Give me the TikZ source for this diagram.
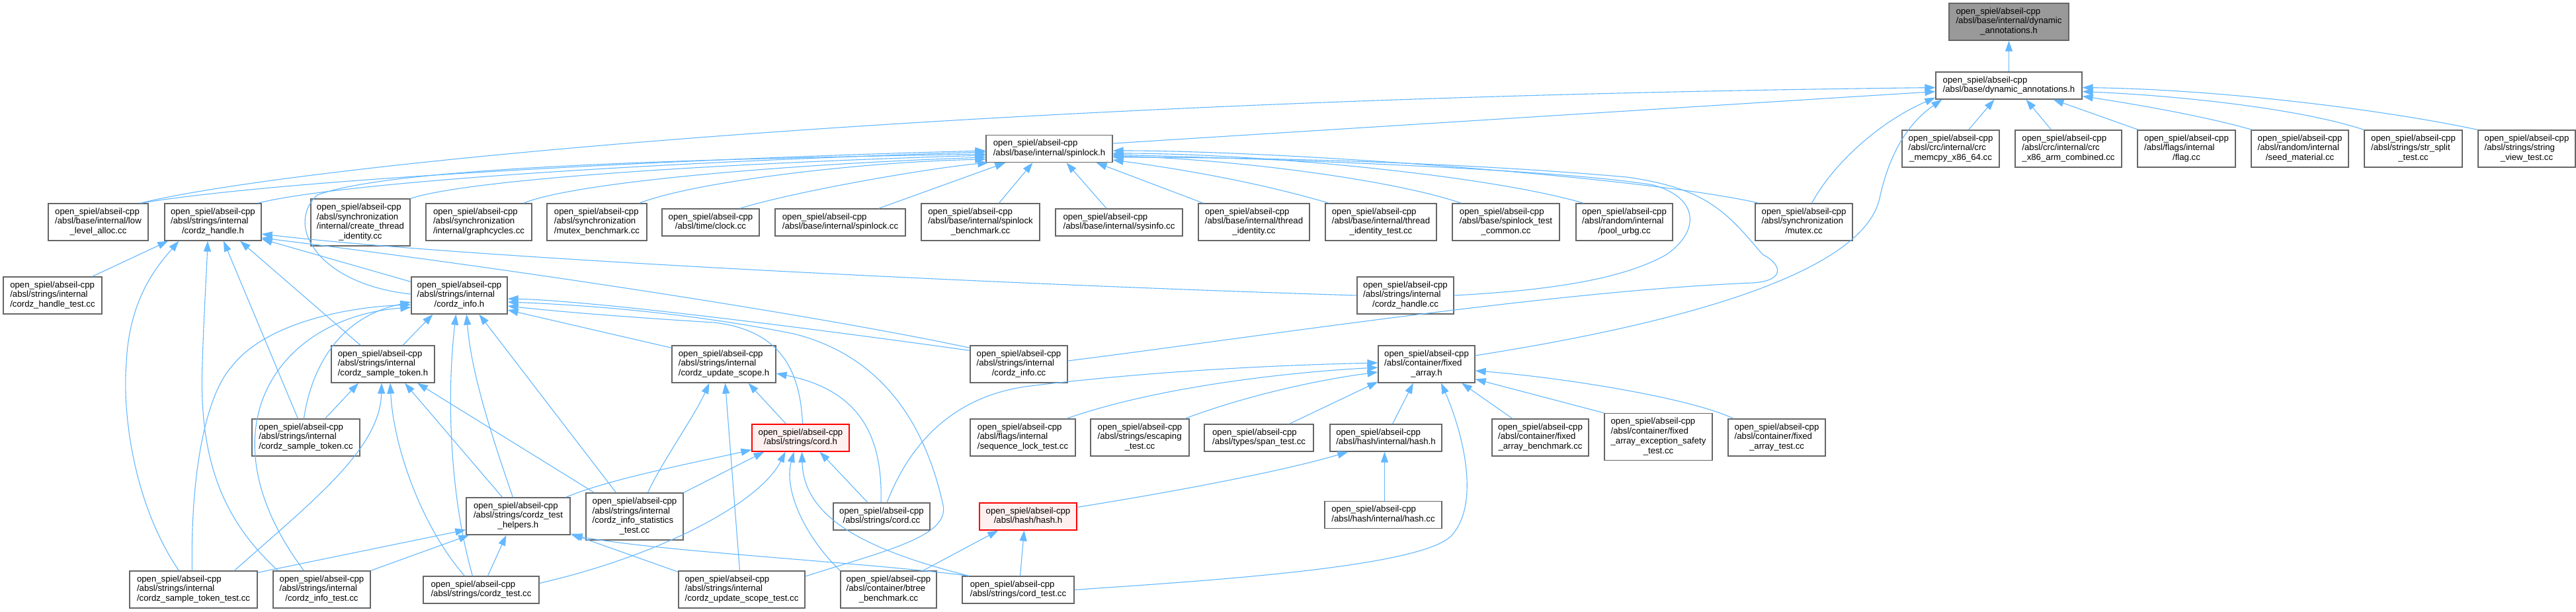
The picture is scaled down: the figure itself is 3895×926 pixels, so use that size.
\documentclass[tikz,border=0pt]{standalone}
\usepackage{fontspec}
\setmainfont{Liberation Sans}
\usetikzlibrary{arrows.meta,calc}
\definecolor{edgeblue}{HTML}{63B8FF}
\definecolor{bordergray}{HTML}{666666}
\definecolor{fillgray}{HTML}{999999}
\definecolor{redfill}{HTML}{FFF0F0}
\newcommand\nlab[1]{\begin{tabular}{@{}l@{}}#1\end{tabular}}
\newcommand\nlast[1]{\multicolumn{1}{@{}c@{}}{#1}}
\newcommand\Nd[6][]{\node[nbox,#1,minimum width=#4,minimum height=#5] (#2) at (#3) {\nlab{#6}};}
\tikzset{
 nbox/.style={draw=bordergray, line width=1.25pt, fill=white, rectangle, inner sep=0pt, font=\fontsize{13.2}{14.8}\selectfont, text=black},
 graynode/.style={fill=fillgray},
 rednode/.style={draw=red, fill=redfill},
 edg/.style={draw=edgeblue, line width=1.1pt, -{Triangle[length=16pt,width=11pt]}},
}
\begin{document}
\begin{tikzpicture}[x=1pt,y=-1pt]
\fill[white] (0,0) rectangle (3895,926);
\useasboundingbox (0,0) rectangle (3895,926);
% rank 0-2
\Nd[graynode]{A}{3037.5,33}{181}{56}{open\_spiel/abseil-cpp\\/absl/base/internal/dynamic\\\nlast{\_annotations.h}}
\Nd{B}{3037.5,129.5}{221}{41}{open\_spiel/abseil-cpp\\\nlast{/absl/base/dynamic\_annotations.h}}
\Nd{C}{1586.5,225}{191}{41}{open\_spiel/abseil-cpp\\\nlast{/absl/base/internal/spinlock.h}}
\Nd{D1}{2949.5,225}{147}{56}{open\_spiel/abseil-cpp\\/absl/crc/internal/crc\\\nlast{\_memcpy\_x86\_64.cc}}
\Nd{D2}{3127.5,225}{161}{56}{open\_spiel/abseil-cpp\\/absl/crc/internal/crc\\\nlast{\_x86\_arm\_combined.cc}}
\Nd{D3}{3306,225}{148}{56}{open\_spiel/abseil-cpp\\/absl/flags/internal\\\nlast{/flag.cc}}
\Nd{D4}{3477.5,225}{147}{56}{open\_spiel/abseil-cpp\\/absl/random/internal\\\nlast{/seed\_material.cc}}
\Nd{D5}{3649,225}{148}{56}{open\_spiel/abseil-cpp\\/absl/strings/str\_split\\\nlast{\_test.cc}}
\Nd{D6}{3820.5,225}{147}{56}{open\_spiel/abseil-cpp\\/absl/strings/string\\\nlast{\_view\_test.cc}}
% rank E
\Nd{E1}{148.5,336}{151}{56}{open\_spiel/abseil-cpp\\/absl/base/internal/low\\\nlast{\_level\_alloc.cc}}
\Nd{E2}{322,336}{146}{56}{open\_spiel/abseil-cpp\\/absl/strings/internal\\\nlast{/cordz\_handle.h}}
\Nd{E3}{545,336.5}{150}{71}{open\_spiel/abseil-cpp\\/absl/synchronization\\/internal/create\_thread\\\nlast{\_identity.cc}}
\Nd{E4}{724,336}{160}{56}{open\_spiel/abseil-cpp\\/absl/synchronization\\\nlast{/internal/graphcycles.cc}}
\Nd{E5}{902.5,336}{151}{56}{open\_spiel/abseil-cpp\\/absl/synchronization\\\nlast{/mutex\_benchmark.cc}}
\Nd{E6}{1074.5,336.5}{147}{41}{open\_spiel/abseil-cpp\\\nlast{/absl/time/clock.cc}}
\Nd{E7}{1270.5,336.5}{197}{41}{open\_spiel/abseil-cpp\\\nlast{/absl/base/internal/spinlock.cc}}
\Nd{E8}{1482.5,336}{179}{56}{open\_spiel/abseil-cpp\\/absl/base/internal/spinlock\\\nlast{\_benchmark.cc}}
\Nd{E9}{1692,336.5}{192}{41}{open\_spiel/abseil-cpp\\\nlast{/absl/base/internal/sysinfo.cc}}
\Nd{E10}{1896,336}{168}{56}{open\_spiel/abseil-cpp\\/absl/base/internal/thread\\\nlast{\_identity.cc}}
\Nd{E11}{2088,336}{168}{56}{open\_spiel/abseil-cpp\\/absl/base/internal/thread\\\nlast{\_identity\_test.cc}}
\Nd{E12}{2277,336}{162}{56}{open\_spiel/abseil-cpp\\/absl/base/spinlock\_test\\\nlast{\_common.cc}}
\Nd{E13}{2456,336}{146}{56}{open\_spiel/abseil-cpp\\/absl/random/internal\\\nlast{/pool\_urbg.cc}}
\Nd{E14}{2727.5,336}{147}{56}{open\_spiel/abseil-cpp\\/absl/synchronization\\\nlast{/mutex.cc}}
% rank F
\Nd{F1}{79.5,447}{149}{56}{open\_spiel/abseil-cpp\\/absl/strings/internal\\\nlast{/cordz\_handle\_test.cc}}
\Nd{F2}{694.5,447}{145}{56}{open\_spiel/abseil-cpp\\/absl/strings/internal\\\nlast{/cordz\_info.h}}
\Nd{F3}{2125,447}{146}{56}{open\_spiel/abseil-cpp\\/absl/strings/internal\\\nlast{/cordz\_handle.cc}}
% rank G
\Nd{G1}{579,551}{156}{56}{open\_spiel/abseil-cpp\\/absl/strings/internal\\\nlast{/cordz\_sample\_token.h}}
\Nd{G2}{1094.5,551}{157}{56}{open\_spiel/abseil-cpp\\/absl/strings/internal\\\nlast{/cordz\_update\_scope.h}}
\Nd{G3}{1540.5,551}{147}{56}{open\_spiel/abseil-cpp\\/absl/strings/internal\\\nlast{/cordz\_info.cc}}
\Nd{G4}{2157,551}{146}{56}{open\_spiel/abseil-cpp\\/absl/container/fixed\\\nlast{\_array.h}}
% rank H
\Nd{H1}{462.5,662}{163}{56}{open\_spiel/abseil-cpp\\/absl/strings/internal\\\nlast{/cordz\_sample\_token.cc}}
\Nd[rednode]{H2}{1210.5,662.5}{147}{41}{open\_spiel/abseil-cpp\\\nlast{/absl/strings/cord.h}}
\Nd{H3}{1546.5,662}{159}{56}{open\_spiel/abseil-cpp\\/absl/flags/internal\\\nlast{/sequence\_lock\_test.cc}}
\Nd{H4}{1723.5,662}{149}{56}{open\_spiel/abseil-cpp\\/absl/strings/escaping\\\nlast{\_test.cc}}
\Nd{H5}{1903.5,662.5}{165}{41}{open\_spiel/abseil-cpp\\\nlast{/absl/types/span\_test.cc}}
\Nd{H6}{2095.5,662.5}{169}{41}{open\_spiel/abseil-cpp\\\nlast{/absl/hash/internal/hash.h}}
\Nd{H7}{2329,662}{146}{56}{open\_spiel/abseil-cpp\\/absl/container/fixed\\\nlast{\_array\_benchmark.cc}}
\Nd{H8}{2507.5,661}{163}{71}{open\_spiel/abseil-cpp\\/absl/container/fixed\\\_array\_exception\_safety\\\nlast{\_test.cc}}
\Nd{H9}{2686.5,662}{147}{56}{open\_spiel/abseil-cpp\\/absl/container/fixed\\\nlast{\_array\_test.cc}}
% rank I
\Nd{I1}{783.5,781}{157}{56}{open\_spiel/abseil-cpp\\/absl/strings/cordz\_test\\\nlast{\_helpers.h}}
\Nd{I2}{959.5,781.5}{147}{71}{open\_spiel/abseil-cpp\\/absl/strings/internal\\/cordz\_info\_statistics\\\nlast{\_test.cc}}
\Nd{I3}{1333,781.5}{146}{41}{open\_spiel/abseil-cpp\\\nlast{/absl/strings/cord.cc}}
\Nd[rednode]{I4}{1554.5,781.5}{147}{41}{open\_spiel/abseil-cpp\\\nlast{/absl/hash/hash.h}}
\Nd{I5}{2091.5,779}{177}{41}{open\_spiel/abseil-cpp\\\nlast{/absl/hash/internal/hash.cc}}
% rank J
\Nd{J1}{292.5,892}{193}{56}{open\_spiel/abseil-cpp\\/absl/strings/internal\\\nlast{/cordz\_sample\_token\_test.cc}}
\Nd{J2}{486.5,892}{147}{56}{open\_spiel/abseil-cpp\\/absl/strings/internal\\\nlast{/cordz\_info\_test.cc}}
\Nd{J3}{727.5,892.5}{175}{41}{open\_spiel/abseil-cpp\\\nlast{/absl/strings/cordz\_test.cc}}
\Nd{J4}{1121.5,892}{191}{56}{open\_spiel/abseil-cpp\\/absl/strings/internal\\\nlast{/cordz\_update\_scope\_test.cc}}
\Nd{J5}{1343.5,892}{145}{56}{open\_spiel/abseil-cpp\\/absl/container/btree\\\nlast{\_benchmark.cc}}
\Nd{J6}{1539.5,892.5}{169}{41}{open\_spiel/abseil-cpp\\\nlast{/absl/strings/cord\_test.cc}}

% ---- edges to A, B
\draw[edg] (B.north) -- (A.south);
\draw[edg] ($(C.east)+(0,-8)$) -- ($(B.west)+(0,9)$);
\draw[edg] ($(E1.north)+(64,0)$) .. controls (420,255) and (1400,150) .. ($(B.west)+(0,3)$);
\draw[edg] ($(E14.north)+(12,0)$) .. controls (2770,250) and (2840,185) .. ($(B.south west)+(0,-3)$);
\draw[edg] ($(G4.east)+(0,-13)$) .. controls (2600,480) and (2820,400) .. (2842,300) .. controls (2855,240) and (2880,190) .. ($(B.south west)+(10,0)$);
\draw[edg] ($(D1.north)+(27,0)$) -- ($(B.south)+(-22,0)$);
\draw[edg] ($(D2.north)+(-26,0)$) -- ($(B.south)+(26,0)$);
\draw[edg] ($(D3.north west)+(2,0)$) -- ($(B.south)+(67,0)$);
\draw[edg] ($(D4.north west)+(2,0)$) .. controls (3330,175) and (3230,158) .. ($(B.east)+(0,16)$);
\draw[edg] (D5.north west) .. controls (3480,165) and (3300,145) .. ($(B.east)+(0,9)$);
\draw[edg] (D6.north west) .. controls (3600,165) and (3350,135) .. ($(B.east)+(0,3)$);
% ---- edges to C
\draw[edg] ($(E1.north)+(64,0)$) .. controls (450,268) and (1100,238) .. ($(C.west)+(0,3)$);
\draw[edg] ($(E2.north east)+(-6,0)$) .. controls (520,275) and (1000,245) .. ($(C.west)+(0,5)$);
\draw[edg] ($(F2.west)+(0,-2)$) .. controls (480,430) and (430,340) .. (480,295) .. controls (600,250) and (1100,240) .. ($(C.west)+(0,8)$);
\draw[edg] (E3.north east) .. controls (720,268) and (1150,245) .. ($(C.west)+(0,10)$);
\draw[edg] ($(E4.north east)+(-13,0)$) .. controls (870,275) and (1200,248) .. ($(C.west)+(0,13)$);
\draw[edg] ($(E5.north east)+(-12,0)$) .. controls (1050,275) and (1300,245) .. ($(C.west)+(0,16)$);
\draw[edg] ($(E6.north east)+(-30,0)$) .. controls (1200,290) and (1400,255) .. ($(C.south west)+(4,0)$);
\draw[edg] ($(E7.north)+(58,0)$) -- ($(C.south west)+(30,0)$);
\draw[edg] ($(E8.north)+(28,0)$) -- ($(C.south)+(-25,0)$);
\draw[edg] ($(E9.north)+(-19,0)$) -- ($(C.south)+(26,0)$);
\draw[edg] ($(E10.north west)+(8,0)$) -- ($(C.south east)+(-25,0)$);
\draw[edg] ($(E11.north west)+(6,0)$) .. controls (1900,275) and (1780,255) .. ($(C.east)+(0,17)$);
\draw[edg] ($(E12.north west)+(14,0)$) .. controls (2100,270) and (1850,240) .. ($(C.east)+(0,11)$);
\draw[edg] ($(E13.north west)+(12,0)$) .. controls (2250,265) and (1900,232) .. ($(C.east)+(0,7)$);
\draw[edg] ($(E14.north west)+(6,0)$) .. controls (2500,270) and (1950,228) .. ($(C.east)+(0,3)$);
\draw[edg] (F3.east) .. controls (2330,440) and (2450,425) .. (2520,385) .. controls (2570,350) and (2570,300) .. (2500,280) .. controls (2350,255) and (1900,240) .. ($(C.east)+(0,9)$);
\draw[edg] ($(G3.east)+(0,-5)$) .. controls (1900,510) and (2350,440) .. (2650,428) .. controls (2700,425) and (2695,400) .. (2665,385) .. controls (2610,320) and (2580,285) .. (2460,268) .. controls (2200,245) and (1900,238) .. ($(C.east)+(0,13)$);
% ---- edges to E2
\draw[edg] ($(F1.north)+(60,0)$) -- ($(E2.south west)+(6,0)$);
\draw[edg] ($(J1.north)+(-22,0)$) .. controls (200,760) and (185,620) .. (191,550) .. controls (195,450) and (240,400) .. ($(E2.south west)+(22,0)$);
\draw[edg] ($(J2.north west)+(8,0)$) .. controls (340,790) and (300,700) .. (306,550) .. controls (308,480) and (312,420) .. ($(E2.south)+(-8,0)$);
\draw[edg] ($(G1.north)+(-34,0)$) -- ($(E2.south)+(41,0)$);
\draw[edg] ($(H1.north)+(-12,0)$) -- ($(E2.south)+(16,0)$);
\draw[edg] ($(F2.north west)+(0,8)$) -- ($(E2.south east)+(0,-3)$);
\draw[edg] (F3.west) .. controls (1500,430) and (700,390) .. ($(E2.east)+(0,18)$);
\draw[edg] ($(G3.north west)+(0,4)$) .. controls (1250,480) and (800,410) .. ($(E2.east)+(0,24)$);
% ---- edges to F2
\draw[edg] ($(G1.north)+(30,0)$) -- ($(F2.south)+(-40,0)$);
\draw[edg] ($(J3.north)+(-13,0)$) .. controls (680,750) and (675,600) .. ($(F2.south)+(-5,0)$);
\draw[edg] ($(I1.north)+(-8,0)$) .. controls (740,650) and (712,560) .. ($(F2.south)+(11,0)$);
\draw[edg] ($(I2.north)+(-28,0)$) -- ($(F2.south)+(30,0)$);
\draw[edg] ($(J1.north)+(-2,0)$) .. controls (288,720) and (310,600) .. (350,555) .. controls (400,490) and (520,465) .. ($(F2.west)+(0,14)$);
\draw[edg] ($(H1.north)+(-3,0)$) .. controls (470,560) and (510,480) .. ($(F2.west)+(0,10)$);
\draw[edg] ($(J2.north)+(-27,0)$) .. controls (300,650) and (420,480) .. ($(F2.west)+(0,18)$);
\draw[edg] ($(G3.north west)+(0,8)$) .. controls (1250,500) and (900,455) .. ($(F2.east)+(0,5)$);
\draw[edg] ($(G2.north west)+(0,4)$) -- ($(F2.east)+(0,22)$);
\draw[edg] ($(H2.north)+(3,0)$) .. controls (1210,560) and (1180,500) .. (1080,488) .. controls (950,480) and (850,472) .. ($(F2.east)+(0,16)$);
\draw[edg] ($(J4.east)+(0,-20)$) .. controls (1350,830) and (1440,810) .. (1425,760) .. controls (1400,650) and (1340,540) .. (1200,505) .. controls (1050,475) and (900,462) .. ($(F2.east)+(0,10)$);
% ---- edges to G1
\draw[edg] ($(H1.north)+(29,0)$) -- ($(G1.south)+(-37,0)$);
\draw[edg] ($(J1.north)+(62,0)$) .. controls (470,760) and (575,680) .. ($(G1.south)+(-2,0)$);
\draw[edg] ($(J3.north)+(-25,0)$) .. controls (640,800) and (595,680) .. ($(G1.south)+(11,0)$);
\draw[edg] ($(I1.north)+(-24,0)$) -- ($(G1.south)+(33,0)$);
\draw[edg] ($(I2.north west)+(13,0)$) -- ($(G1.south)+(52,0)$);
% ---- edges to G2
\draw[edg] ($(H2.north)+(-22,0)$) -- ($(G2.south)+(37,0)$);
\draw[edg] ($(J4.north)+(-3,0)$) -- ($(G2.south)+(2,0)$);
\draw[edg] ($(I3.north)+(-1,0)$) .. controls (1335,660) and (1300,590) .. ($(G2.east)+(0,14)$);
\draw[edg] ($(I2.north)+(20,0)$) .. controls (1000,700) and (1050,630) .. ($(G2.south)+(-22,0)$);
% ---- edges to H2
\draw[edg] ($(I1.north east)+(-7,0)$) .. controls (920,725) and (1050,700) .. ($(H2.south west)+(0,-3)$);
\draw[edg] (I2.north east) -- ($(H2.south)+(-55,0)$);
\draw[edg] ($(J3.east)+(0,-10)$) .. controls (1000,840) and (1150,760) .. ($(H2.south)+(-23,0)$);
\draw[edg] (J5.north west) .. controls (1215,810) and (1185,740) .. ($(H2.south)+(-10,0)$);
\draw[edg] ($(J6.north west)+(11,0)$) .. controls (1300,830) and (1215,780) .. ($(H2.south)+(2,0)$);
\draw[edg] ($(I3.north)+(-21,0)$) -- ($(H2.south)+(29,0)$);
% ---- edges to G4
\draw[edg] ($(I3.north)+(8,0)$) .. controls (1380,660) and (1450,600) .. (1550,585) .. controls (1750,560) and (1950,552) .. ($(G4.west)+(0,-2)$);
\draw[edg] ($(H3.north east)+(-14,0)$) .. controls (1750,585) and (1950,563) .. ($(G4.west)+(0,5)$);
\draw[edg] ($(H4.north east)+(-7,0)$) .. controls (1880,600) and (1990,575) .. ($(G4.west)+(0,12)$);
\draw[edg] ($(H5.north)+(46,0)$) -- ($(G4.south west)+(0,-2)$);
\draw[edg] ($(H6.north)+(10,0)$) -- ($(G4.south)+(-20,0)$);
\draw[edg] (J6.east) .. controls (1800,880) and (2150,860) .. (2195,810) .. controls (2240,760) and (2210,650) .. ($(G4.south)+(22,0)$);
\draw[edg] ($(H7.north)+(-42,0)$) -- ($(G4.south)+(53,0)$);
\draw[edg] (H8.north west) -- ($(G4.south east)+(0,-6)$);
\draw[edg] ($(H9.north)+(-65,0)$) .. controls (2550,600) and (2350,570) .. ($(G4.east)+(0,10)$);
% ---- edges to H6, I4
\draw[edg] ($(I4.east)+(0,-14)$) .. controls (1800,740) and (1950,710) .. ($(H6.south west)+(28,0)$);
\draw[edg] ($(I5.north)+(2,0)$) -- ($(H6.south)+(-2,0)$);
\draw[edg] ($(J5.north)+(52,0)$) -- ($(I4.south west)+(29,0)$);
\draw[edg] ($(J6.north)+(3,0)$) -- ($(I4.south)+(-6,0)$);
% ---- edges to I1
\draw[edg] ($(J1.north east)+(0,3)$) -- ($(I1.south west)+(0,-8)$);
\draw[edg] (J2.north east) -- ($(I1.south west)+(5,0)$);
\draw[edg] ($(J3.north)+(10,0)$) -- ($(I1.south)+(-18,0)$);
\draw[edg] ($(J4.north west)+(0,2)$) -- ($(I1.south east)+(0,-2)$);
\draw[edg] ($(J6.north west)+(11,0)$) .. controls (1300,850) and (1000,835) .. ($(I1.south east)+(2,0)$);
\end{tikzpicture}
\end{document}
